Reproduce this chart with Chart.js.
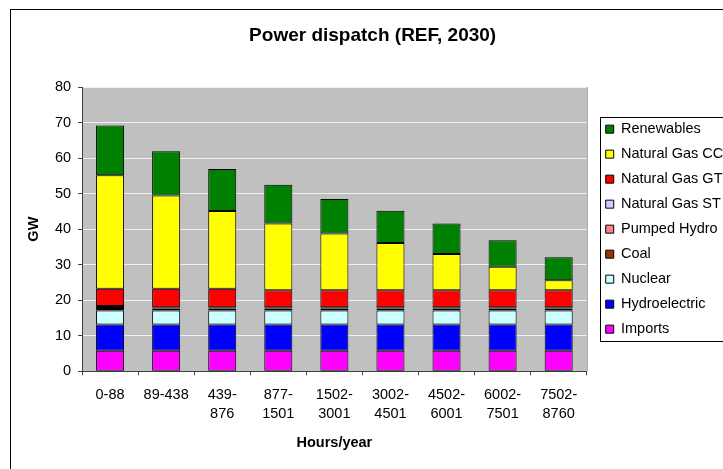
<!DOCTYPE html>
<html>
<head>
<meta charset="utf-8">
<script src="https://cdn.jsdelivr.net/npm/chart.js@4/dist/chart.umd.min.js"></script>
<style>
  html, body { margin: 0; padding: 0; background: #fff; overflow: hidden; }
  #wrap { width: 723px; height: 469px; overflow: hidden; }
</style>
</head>
<body>
<div id="wrap"><canvas id="dispatchChart" width="760" height="469"></canvas></div>
<script>
// Tidsintervall (timmar/år)
const hourBands = ["0-88", "89-438", ["439-", "876"], ["877-", "1501"], ["1502-", "3001"],
    ["3002-", "4501"], ["4502-", "6001"], ["6002-", "7501"], ["7502-", "8760"]];

// Effekt per källa (GW), nerifrån och upp
const imports       = [5.8, 5.8, 5.8, 5.8, 5.8, 5.8, 5.8, 5.8, 5.8];
const hydroelectric = [7.4, 7.4, 7.4, 7.4, 7.4, 7.4, 7.4, 7.4, 7.4];
const nuclear       = [3.9, 3.9, 3.9, 3.9, 3.9, 3.9, 3.9, 3.9, 3.9];
const coal          = [0.4, 0.4, 0.4, 0.4, 0.4, 0.4, 0.4, 0.4, 0.4];
const pumpedHydro   = [0.6, 0.2, 0.2, 0.2, 0.2, 0.2, 0.2, 0.2, 0.2];
const gasST         = [0.3, 0.3, 0.3, 0.3, 0.3, 0.3, 0.3, 0.3, 0.3];
const gasGT         = [4.8, 5.2, 5.2, 4.8, 4.8, 4.8, 4.8, 4.8, 4.8];
const gasCC         = [32.0, 26.3, 21.9, 18.8, 16.0, 13.3, 10.2, 6.6, 2.8];
const renewables    = [14.0, 12.4, 11.8, 10.9, 9.7, 9.1, 8.6, 7.5, 6.5];

const yTicks = [0, 10, 20, 30, 40, 50, 60, 70, 80];

const FONT = "'Liberation Sans', Arial, sans-serif";

// Grå bakgrund i diagramytan
const plotBackground = {
    id: "plotBackground",
    beforeDraw(chart) {
        const { ctx, chartArea: a } = chart;
        ctx.save();
        ctx.fillStyle = "#C0C0C0";
        ctx.fillRect(a.left, a.top, a.right - a.left, a.bottom - a.top);
        ctx.strokeStyle = "#909090";
        ctx.lineWidth = 1;
        ctx.beginPath();
        ctx.moveTo(a.right + 0.5, a.top);
        ctx.lineTo(a.right + 0.5, a.bottom);
        ctx.stroke();
        ctx.restore();
    }
};

// Ram runt hela diagrammet och runt förklaringen
const frames = {
    id: "frames",
    afterDraw(chart) {
        const ctx = chart.ctx;
        ctx.save();
        ctx.strokeStyle = "#000";
        ctx.lineWidth = 1;
        ctx.strokeRect(10.5, 9.5, 726, 520);
        const boxes = chart.legend.legendHitBoxes;
        if (boxes && boxes.length) {
            const first = boxes[0];
            const last = boxes[boxes.length - 1];
            const left = Math.round(first.left - 6) + 0.5;
            const top = Math.round(first.top - 5) + 0.5;
            const bottom = Math.round(last.top + last.height + 5) + 0.5;
            ctx.strokeRect(left, top, 200, bottom - top);
        }
        ctx.restore();
    }
};

function makeSet(label, data, color) {
    return {
        label: label,
        data: data,
        backgroundColor: color,
        borderColor: "#000",
        borderWidth: 1,
        borderSkipped: false,
        stack: "s",
        yAxisID: "y"
    };
}

const ctx = document.getElementById("dispatchChart").getContext("2d");
new Chart(ctx, {
    type: "bar",
    data: {
        labels: hourBands,
        datasets: [
            makeSet("Imports", imports, "#FF00FF"),
            makeSet("Hydroelectric", hydroelectric, "#0000FF"),
            makeSet("Nuclear", nuclear, "#CCFFFF"),
            makeSet("Coal", coal, "#993300"),
            makeSet("Pumped Hydro", pumpedHydro, "#FF8080"),
            makeSet("Natural Gas ST", gasST, "#CCCCFF"),
            makeSet("Natural Gas GT", gasGT, "#FF0000"),
            makeSet("Natural Gas CC", gasCC, "#FFFF00"),
            makeSet("Renewables", renewables, "#008000")
        ]
    },
    options: {
        responsive: false,
        animation: false,
        events: [],
        categoryPercentage: 1,
        barPercentage: 0.5,
        layout: { padding: { top: 9, left: 12, right: 26.7, bottom: 17.6 } },
        plugins: {
            title: {
                display: true,
                text: "Power dispatch (REF, 2030)",
                color: "#000",
                font: { family: FONT, size: 19, weight: "bold", lineHeight: 1.2 },
                padding: { top: 15.6, bottom: 39.6 }
            },
            legend: {
                position: "right",
                fullSize: false,
                reverse: true,
                maxWidth: 300,
                labels: {
                    color: "#000",
                    font: { family: FONT, size: 14.5 },
                    boxWidth: 8,
                    boxHeight: 8,
                    padding: 10.5
                }
            },
            tooltip: { enabled: false }
        },
        scales: {
            x: {
                stacked: true,
                grid: {
                    drawOnChartArea: false,
                    drawTicks: true,
                    tickLength: 4,
                    color: "#404040",
                    offset: true
                },
                border: { color: "#404040" },
                ticks: {
                    color: "#000",
                    padding: 10,
                    maxRotation: 0,
                    autoSkip: false,
                    font: { family: FONT, size: 14.5, lineHeight: 1.3 }
                },
                title: {
                    display: true,
                    text: "Hours/year",
                    color: "#000",
                    font: { family: FONT, size: 14.5, weight: "bold", lineHeight: 1.2 },
                    padding: { top: 1, bottom: 0 }
                }
            },
            y: {
                stacked: true,
                min: 0,
                max: 80,
                afterBuildTicks(scale) {
                    scale.ticks = yTicks.map(v => ({ value: v }));
                },
                grid: {
                    color: "#F0F0F0",
                    tickColor: "#404040",
                    tickLength: 4
                },
                border: { color: "#404040" },
                ticks: {
                    color: "#000",
                    padding: 7,
                    font: { family: FONT, size: 14.5 }
                },
                title: {
                    display: true,
                    text: "GW",
                    color: "#000",
                    font: { family: FONT, size: 14.5, weight: "bold", lineHeight: 1.2 },
                    padding: { top: 12.8, bottom: 5.7 }
                }
            },
            gap: {
                position: "right",
                display: true,
                grid: { display: false },
                border: { display: false },
                ticks: { display: false },
                afterFit(scale) { scale.width = 8.5; }
            }
        }
    },
    plugins: [plotBackground, frames]
});
</script>
</body>
</html>
